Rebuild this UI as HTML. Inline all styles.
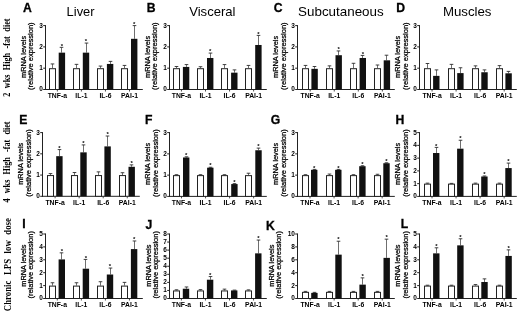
<!DOCTYPE html>
<html><head><meta charset="utf-8"><style>
html,body{margin:0;padding:0;background:#fff;overflow:hidden;width:520px;height:314px;}
svg{display:block;will-change:transform;filter:blur(0.3px);}
</style></head><body>
<svg width="520" height="314" viewBox="0 0 520 314">
<rect width="520" height="314" fill="#fff"/>
<line x1="45.5" y1="25.1" x2="45.5" y2="90.0" stroke="#222" stroke-width="1"/>
<line x1="45.0" y1="89.5" x2="142.8" y2="89.5" stroke="#222" stroke-width="1"/>
<line x1="43.2" y1="89.5" x2="45.5" y2="89.5" stroke="#222" stroke-width="1"/>
<text x="42.9" y="91.4" font-size="6.5" font-weight="bold" text-anchor="end" font-family="Liberation Sans">0</text>
<line x1="43.2" y1="68.2" x2="45.5" y2="68.2" stroke="#222" stroke-width="1"/>
<text x="42.9" y="70.1" font-size="6.5" font-weight="bold" text-anchor="end" font-family="Liberation Sans">1</text>
<line x1="43.2" y1="46.9" x2="45.5" y2="46.9" stroke="#222" stroke-width="1"/>
<text x="42.9" y="48.8" font-size="6.5" font-weight="bold" text-anchor="end" font-family="Liberation Sans">2</text>
<line x1="43.2" y1="25.6" x2="45.5" y2="25.6" stroke="#222" stroke-width="1"/>
<text x="42.9" y="27.5" font-size="6.5" font-weight="bold" text-anchor="end" font-family="Liberation Sans">3</text>
<line x1="52.5" y1="63.94" x2="52.5" y2="68.2" stroke="#4a4a4a" stroke-width="0.8"/>
<line x1="50.7" y1="63.94" x2="54.3" y2="63.94" stroke="#2a2a2a" stroke-width="0.9"/>
<rect x="49.5" y="68.7" width="6" height="20.8" fill="#fff" stroke="#222" stroke-width="1"/>
<line x1="61.5" y1="47.33" x2="61.5" y2="52.65" stroke="#4a4a4a" stroke-width="0.8"/>
<line x1="59.7" y1="47.33" x2="63.3" y2="47.33" stroke="#2a2a2a" stroke-width="0.9"/>
<rect x="58.7" y="52.65" width="6.4" height="36.85" fill="#111"/>
<line x1="57.35" y1="89.5" x2="57.35" y2="91.5" stroke="#222" stroke-width="0.8"/>
<text x="61.9" y="47.53" font-size="6" font-weight="bold" text-anchor="middle" font-family="Liberation Sans">*</text>
<text x="57.35" y="97.7" font-size="6.8" font-weight="bold" text-anchor="middle" font-family="Liberation Sans">TNF-a</text>
<line x1="76.5" y1="64.37" x2="76.5" y2="68.2" stroke="#4a4a4a" stroke-width="0.8"/>
<line x1="74.7" y1="64.37" x2="78.3" y2="64.37" stroke="#2a2a2a" stroke-width="0.9"/>
<rect x="73.5" y="68.7" width="6" height="20.8" fill="#fff" stroke="#222" stroke-width="1"/>
<line x1="86.5" y1="43.07" x2="86.5" y2="52.65" stroke="#4a4a4a" stroke-width="0.8"/>
<line x1="84.7" y1="43.07" x2="88.3" y2="43.07" stroke="#2a2a2a" stroke-width="0.9"/>
<rect x="82.8" y="52.65" width="6.4" height="36.85" fill="#111"/>
<line x1="81.4" y1="89.5" x2="81.4" y2="91.5" stroke="#222" stroke-width="0.8"/>
<text x="86" y="43.27" font-size="6" font-weight="bold" text-anchor="middle" font-family="Liberation Sans">*</text>
<text x="81.4" y="97.7" font-size="6.8" font-weight="bold" text-anchor="middle" font-family="Liberation Sans">IL-1</text>
<line x1="100.5" y1="66.07" x2="100.5" y2="68.2" stroke="#4a4a4a" stroke-width="0.8"/>
<line x1="98.7" y1="66.07" x2="102.3" y2="66.07" stroke="#2a2a2a" stroke-width="0.9"/>
<rect x="97.5" y="68.7" width="6" height="20.8" fill="#fff" stroke="#222" stroke-width="1"/>
<line x1="110.5" y1="61.38" x2="110.5" y2="63.94" stroke="#4a4a4a" stroke-width="0.8"/>
<line x1="108.7" y1="61.38" x2="112.3" y2="61.38" stroke="#2a2a2a" stroke-width="0.9"/>
<rect x="106.9" y="63.94" width="6.4" height="25.56" fill="#111"/>
<line x1="105.45" y1="89.5" x2="105.45" y2="91.5" stroke="#222" stroke-width="0.8"/>
<text x="105.45" y="97.7" font-size="6.8" font-weight="bold" text-anchor="middle" font-family="Liberation Sans">IL-6</text>
<line x1="124.5" y1="65.43" x2="124.5" y2="68.2" stroke="#4a4a4a" stroke-width="0.8"/>
<line x1="122.7" y1="65.43" x2="126.3" y2="65.43" stroke="#2a2a2a" stroke-width="0.9"/>
<rect x="121.5" y="68.7" width="6" height="20.8" fill="#fff" stroke="#222" stroke-width="1"/>
<line x1="134.5" y1="25.6" x2="134.5" y2="38.81" stroke="#4a4a4a" stroke-width="0.8"/>
<line x1="132.7" y1="25.6" x2="136.3" y2="25.6" stroke="#2a2a2a" stroke-width="0.9"/>
<rect x="131.0" y="38.81" width="6.4" height="50.69" fill="#111"/>
<line x1="129.5" y1="89.5" x2="129.5" y2="91.5" stroke="#222" stroke-width="0.8"/>
<text x="134.2" y="25.8" font-size="6" font-weight="bold" text-anchor="middle" font-family="Liberation Sans">*</text>
<text x="129.5" y="97.7" font-size="6.8" font-weight="bold" text-anchor="middle" font-family="Liberation Sans">PAI-1</text>
<text x="25.95" y="56.9" font-size="7.35" font-weight="normal" text-anchor="middle" font-family="Liberation Sans" transform="rotate(-90 25.95 56.9)" stroke="#000" stroke-width="0.25">mRNA levels</text>
<text x="32.8" y="56.15" font-size="7.5" font-weight="normal" text-anchor="middle" font-family="Liberation Sans" transform="rotate(-90 32.8 56.15)" stroke="#000" stroke-width="0.25">(relative expression)</text>
<text x="27.5" y="12.29" font-size="12.2" font-weight="bold" text-anchor="middle" font-family="Liberation Sans" stroke="#000" stroke-width="0.3">A</text>
<text x="66.6" y="16.4" font-size="12.9" font-weight="normal" text-anchor="start" font-family="Liberation Sans">Liver</text>
<line x1="169.5" y1="25.1" x2="169.5" y2="90.0" stroke="#222" stroke-width="1"/>
<line x1="169.0" y1="89.5" x2="266.8" y2="89.5" stroke="#222" stroke-width="1"/>
<line x1="167.2" y1="89.5" x2="169.5" y2="89.5" stroke="#222" stroke-width="1"/>
<text x="166.9" y="91.4" font-size="6.5" font-weight="bold" text-anchor="end" font-family="Liberation Sans">0</text>
<line x1="167.2" y1="68.2" x2="169.5" y2="68.2" stroke="#222" stroke-width="1"/>
<text x="166.9" y="70.1" font-size="6.5" font-weight="bold" text-anchor="end" font-family="Liberation Sans">1</text>
<line x1="167.2" y1="46.9" x2="169.5" y2="46.9" stroke="#222" stroke-width="1"/>
<text x="166.9" y="48.8" font-size="6.5" font-weight="bold" text-anchor="end" font-family="Liberation Sans">2</text>
<line x1="167.2" y1="25.6" x2="169.5" y2="25.6" stroke="#222" stroke-width="1"/>
<text x="166.9" y="27.5" font-size="6.5" font-weight="bold" text-anchor="end" font-family="Liberation Sans">3</text>
<line x1="176.5" y1="66.5" x2="176.5" y2="68.2" stroke="#4a4a4a" stroke-width="0.8"/>
<line x1="174.7" y1="66.5" x2="178.3" y2="66.5" stroke="#2a2a2a" stroke-width="0.9"/>
<rect x="173.5" y="68.7" width="6" height="20.8" fill="#fff" stroke="#222" stroke-width="1"/>
<line x1="186.5" y1="64.58" x2="186.5" y2="66.92" stroke="#4a4a4a" stroke-width="0.8"/>
<line x1="184.7" y1="64.58" x2="188.3" y2="64.58" stroke="#2a2a2a" stroke-width="0.9"/>
<rect x="182.9" y="66.92" width="6.4" height="22.58" fill="#111"/>
<line x1="181.45" y1="89.5" x2="181.45" y2="91.5" stroke="#222" stroke-width="0.8"/>
<text x="181.45" y="97.7" font-size="6.8" font-weight="bold" text-anchor="middle" font-family="Liberation Sans">TNF-a</text>
<line x1="200.5" y1="66.71" x2="200.5" y2="68.2" stroke="#4a4a4a" stroke-width="0.8"/>
<line x1="198.7" y1="66.71" x2="202.3" y2="66.71" stroke="#2a2a2a" stroke-width="0.9"/>
<rect x="197.5" y="68.7" width="6" height="20.8" fill="#fff" stroke="#222" stroke-width="1"/>
<line x1="210.5" y1="53.08" x2="210.5" y2="57.98" stroke="#4a4a4a" stroke-width="0.8"/>
<line x1="208.7" y1="53.08" x2="212.3" y2="53.08" stroke="#2a2a2a" stroke-width="0.9"/>
<rect x="207.0" y="57.98" width="6.4" height="31.52" fill="#111"/>
<line x1="205.5" y1="89.5" x2="205.5" y2="91.5" stroke="#222" stroke-width="0.8"/>
<text x="210.2" y="53.28" font-size="6" font-weight="bold" text-anchor="middle" font-family="Liberation Sans">*</text>
<text x="205.5" y="97.7" font-size="6.8" font-weight="bold" text-anchor="middle" font-family="Liberation Sans">IL-1</text>
<line x1="224.5" y1="64.58" x2="224.5" y2="68.2" stroke="#4a4a4a" stroke-width="0.8"/>
<line x1="222.7" y1="64.58" x2="226.3" y2="64.58" stroke="#2a2a2a" stroke-width="0.9"/>
<rect x="221.5" y="68.7" width="6" height="20.8" fill="#fff" stroke="#222" stroke-width="1"/>
<line x1="234.5" y1="69.9" x2="234.5" y2="72.67" stroke="#4a4a4a" stroke-width="0.8"/>
<line x1="232.7" y1="69.9" x2="236.3" y2="69.9" stroke="#2a2a2a" stroke-width="0.9"/>
<rect x="231.1" y="72.67" width="6.4" height="16.83" fill="#111"/>
<line x1="229.55" y1="89.5" x2="229.55" y2="91.5" stroke="#222" stroke-width="0.8"/>
<text x="229.55" y="97.7" font-size="6.8" font-weight="bold" text-anchor="middle" font-family="Liberation Sans">IL-6</text>
<line x1="248.5" y1="65.43" x2="248.5" y2="68.2" stroke="#4a4a4a" stroke-width="0.8"/>
<line x1="246.7" y1="65.43" x2="250.3" y2="65.43" stroke="#2a2a2a" stroke-width="0.9"/>
<rect x="245.5" y="68.7" width="6" height="20.8" fill="#fff" stroke="#222" stroke-width="1"/>
<line x1="258.5" y1="35.4" x2="258.5" y2="44.98" stroke="#4a4a4a" stroke-width="0.8"/>
<line x1="256.7" y1="35.4" x2="260.3" y2="35.4" stroke="#2a2a2a" stroke-width="0.9"/>
<rect x="255.2" y="44.98" width="6.4" height="44.52" fill="#111"/>
<line x1="253.6" y1="89.5" x2="253.6" y2="91.5" stroke="#222" stroke-width="0.8"/>
<text x="258.4" y="35.6" font-size="6" font-weight="bold" text-anchor="middle" font-family="Liberation Sans">*</text>
<text x="253.6" y="97.7" font-size="6.8" font-weight="bold" text-anchor="middle" font-family="Liberation Sans">PAI-1</text>
<text x="149.95" y="56.9" font-size="7.35" font-weight="normal" text-anchor="middle" font-family="Liberation Sans" transform="rotate(-90 149.95 56.9)" stroke="#000" stroke-width="0.25">mRNA levels</text>
<text x="157.25" y="56.15" font-size="7.5" font-weight="normal" text-anchor="middle" font-family="Liberation Sans" transform="rotate(-90 157.25 56.15)" stroke="#000" stroke-width="0.25">(relative expression)</text>
<text x="151.25" y="12.49" font-size="12.2" font-weight="bold" text-anchor="middle" font-family="Liberation Sans" stroke="#000" stroke-width="0.3">B</text>
<text x="189.2" y="16.4" font-size="13.1" font-weight="normal" text-anchor="start" font-family="Liberation Sans">Visceral</text>
<line x1="297.5" y1="25.1" x2="297.5" y2="90.0" stroke="#222" stroke-width="1"/>
<line x1="297.0" y1="89.5" x2="394.8" y2="89.5" stroke="#222" stroke-width="1"/>
<line x1="295.2" y1="89.5" x2="297.5" y2="89.5" stroke="#222" stroke-width="1"/>
<text x="294.9" y="91.4" font-size="6.5" font-weight="bold" text-anchor="end" font-family="Liberation Sans">0</text>
<line x1="295.2" y1="68.2" x2="297.5" y2="68.2" stroke="#222" stroke-width="1"/>
<text x="294.9" y="70.1" font-size="6.5" font-weight="bold" text-anchor="end" font-family="Liberation Sans">1</text>
<line x1="295.2" y1="46.9" x2="297.5" y2="46.9" stroke="#222" stroke-width="1"/>
<text x="294.9" y="48.8" font-size="6.5" font-weight="bold" text-anchor="end" font-family="Liberation Sans">2</text>
<line x1="295.2" y1="25.6" x2="297.5" y2="25.6" stroke="#222" stroke-width="1"/>
<text x="294.9" y="27.5" font-size="6.5" font-weight="bold" text-anchor="end" font-family="Liberation Sans">3</text>
<line x1="305.5" y1="65.43" x2="305.5" y2="68.2" stroke="#4a4a4a" stroke-width="0.8"/>
<line x1="303.7" y1="65.43" x2="307.3" y2="65.43" stroke="#2a2a2a" stroke-width="0.9"/>
<rect x="302.5" y="68.7" width="6" height="20.8" fill="#fff" stroke="#222" stroke-width="1"/>
<line x1="314.5" y1="66.5" x2="314.5" y2="68.84" stroke="#4a4a4a" stroke-width="0.8"/>
<line x1="312.7" y1="66.5" x2="316.3" y2="66.5" stroke="#2a2a2a" stroke-width="0.9"/>
<rect x="311.4" y="68.84" width="6.4" height="20.66" fill="#111"/>
<line x1="310.2" y1="89.5" x2="310.2" y2="91.5" stroke="#222" stroke-width="0.8"/>
<text x="310.2" y="97.7" font-size="6.8" font-weight="bold" text-anchor="middle" font-family="Liberation Sans">TNF-a</text>
<line x1="329.5" y1="65.86" x2="329.5" y2="68.2" stroke="#4a4a4a" stroke-width="0.8"/>
<line x1="327.7" y1="65.86" x2="331.3" y2="65.86" stroke="#2a2a2a" stroke-width="0.9"/>
<rect x="326.5" y="68.7" width="6" height="20.8" fill="#fff" stroke="#222" stroke-width="1"/>
<line x1="338.5" y1="50.95" x2="338.5" y2="55.21" stroke="#4a4a4a" stroke-width="0.8"/>
<line x1="336.7" y1="50.95" x2="340.3" y2="50.95" stroke="#2a2a2a" stroke-width="0.9"/>
<rect x="335.5" y="55.21" width="6.4" height="34.29" fill="#111"/>
<line x1="334.25" y1="89.5" x2="334.25" y2="91.5" stroke="#222" stroke-width="0.8"/>
<text x="338.7" y="51.15" font-size="6" font-weight="bold" text-anchor="middle" font-family="Liberation Sans">*</text>
<text x="334.25" y="97.7" font-size="6.8" font-weight="bold" text-anchor="middle" font-family="Liberation Sans">IL-1</text>
<line x1="353.5" y1="63.3" x2="353.5" y2="68.2" stroke="#4a4a4a" stroke-width="0.8"/>
<line x1="351.7" y1="63.3" x2="355.3" y2="63.3" stroke="#2a2a2a" stroke-width="0.9"/>
<rect x="350.5" y="68.7" width="6" height="20.8" fill="#fff" stroke="#222" stroke-width="1"/>
<line x1="362.5" y1="55.42" x2="362.5" y2="57.98" stroke="#4a4a4a" stroke-width="0.8"/>
<line x1="360.7" y1="55.42" x2="364.3" y2="55.42" stroke="#2a2a2a" stroke-width="0.9"/>
<rect x="359.6" y="57.98" width="6.4" height="31.52" fill="#111"/>
<line x1="358.3" y1="89.5" x2="358.3" y2="91.5" stroke="#222" stroke-width="0.8"/>
<text x="362.8" y="55.62" font-size="6" font-weight="bold" text-anchor="middle" font-family="Liberation Sans">*</text>
<text x="358.3" y="97.7" font-size="6.8" font-weight="bold" text-anchor="middle" font-family="Liberation Sans">IL-6</text>
<line x1="377.5" y1="65.01" x2="377.5" y2="68.2" stroke="#4a4a4a" stroke-width="0.8"/>
<line x1="375.7" y1="65.01" x2="379.3" y2="65.01" stroke="#2a2a2a" stroke-width="0.9"/>
<rect x="374.5" y="68.7" width="6" height="20.8" fill="#fff" stroke="#222" stroke-width="1"/>
<line x1="386.5" y1="55.21" x2="386.5" y2="60.32" stroke="#4a4a4a" stroke-width="0.8"/>
<line x1="384.7" y1="55.21" x2="388.3" y2="55.21" stroke="#2a2a2a" stroke-width="0.9"/>
<rect x="383.7" y="60.32" width="6.4" height="29.18" fill="#111"/>
<line x1="382.35" y1="89.5" x2="382.35" y2="91.5" stroke="#222" stroke-width="0.8"/>
<text x="382.35" y="97.7" font-size="6.8" font-weight="bold" text-anchor="middle" font-family="Liberation Sans">PAI-1</text>
<text x="278.3" y="56.9" font-size="7.35" font-weight="normal" text-anchor="middle" font-family="Liberation Sans" transform="rotate(-90 278.3 56.9)" stroke="#000" stroke-width="0.25">mRNA levels</text>
<text x="285.7" y="56.15" font-size="7.5" font-weight="normal" text-anchor="middle" font-family="Liberation Sans" transform="rotate(-90 285.7 56.15)" stroke="#000" stroke-width="0.25">(relative expression)</text>
<text x="278.1" y="12.49" font-size="12.2" font-weight="bold" text-anchor="middle" font-family="Liberation Sans" stroke="#000" stroke-width="0.3">C</text>
<text x="298.1" y="16.0" font-size="13.4" font-weight="normal" text-anchor="start" font-family="Liberation Sans">Subcutaneous</text>
<line x1="419.5" y1="25.1" x2="419.5" y2="90.0" stroke="#222" stroke-width="1"/>
<line x1="419.0" y1="89.5" x2="516.8" y2="89.5" stroke="#222" stroke-width="1"/>
<line x1="417.2" y1="89.5" x2="419.5" y2="89.5" stroke="#222" stroke-width="1"/>
<text x="416.9" y="91.4" font-size="6.5" font-weight="bold" text-anchor="end" font-family="Liberation Sans">0</text>
<line x1="417.2" y1="68.2" x2="419.5" y2="68.2" stroke="#222" stroke-width="1"/>
<text x="416.9" y="70.1" font-size="6.5" font-weight="bold" text-anchor="end" font-family="Liberation Sans">1</text>
<line x1="417.2" y1="46.9" x2="419.5" y2="46.9" stroke="#222" stroke-width="1"/>
<text x="416.9" y="48.8" font-size="6.5" font-weight="bold" text-anchor="end" font-family="Liberation Sans">2</text>
<line x1="417.2" y1="25.6" x2="419.5" y2="25.6" stroke="#222" stroke-width="1"/>
<text x="416.9" y="27.5" font-size="6.5" font-weight="bold" text-anchor="end" font-family="Liberation Sans">3</text>
<line x1="427.5" y1="63.51" x2="427.5" y2="68.2" stroke="#4a4a4a" stroke-width="0.8"/>
<line x1="425.7" y1="63.51" x2="429.3" y2="63.51" stroke="#2a2a2a" stroke-width="0.9"/>
<rect x="424.5" y="68.7" width="6" height="20.8" fill="#fff" stroke="#222" stroke-width="1"/>
<line x1="436.5" y1="69.9" x2="436.5" y2="75.87" stroke="#4a4a4a" stroke-width="0.8"/>
<line x1="434.7" y1="69.9" x2="438.3" y2="69.9" stroke="#2a2a2a" stroke-width="0.9"/>
<rect x="433.1" y="75.87" width="6.4" height="13.63" fill="#111"/>
<line x1="432.05" y1="89.5" x2="432.05" y2="91.5" stroke="#222" stroke-width="0.8"/>
<text x="432.05" y="97.7" font-size="6.8" font-weight="bold" text-anchor="middle" font-family="Liberation Sans">TNF-a</text>
<line x1="451.5" y1="64.37" x2="451.5" y2="68.2" stroke="#4a4a4a" stroke-width="0.8"/>
<line x1="449.7" y1="64.37" x2="453.3" y2="64.37" stroke="#2a2a2a" stroke-width="0.9"/>
<rect x="448.5" y="68.7" width="6" height="20.8" fill="#fff" stroke="#222" stroke-width="1"/>
<line x1="460.5" y1="67.77" x2="460.5" y2="73.1" stroke="#4a4a4a" stroke-width="0.8"/>
<line x1="458.7" y1="67.77" x2="462.3" y2="67.77" stroke="#2a2a2a" stroke-width="0.9"/>
<rect x="457.2" y="73.1" width="6.4" height="16.4" fill="#111"/>
<line x1="456.1" y1="89.5" x2="456.1" y2="91.5" stroke="#222" stroke-width="0.8"/>
<text x="456.1" y="97.7" font-size="6.8" font-weight="bold" text-anchor="middle" font-family="Liberation Sans">IL-1</text>
<line x1="475.5" y1="65.86" x2="475.5" y2="68.2" stroke="#4a4a4a" stroke-width="0.8"/>
<line x1="473.7" y1="65.86" x2="477.3" y2="65.86" stroke="#2a2a2a" stroke-width="0.9"/>
<rect x="472.5" y="68.7" width="6" height="20.8" fill="#fff" stroke="#222" stroke-width="1"/>
<line x1="484.5" y1="69.9" x2="484.5" y2="72.25" stroke="#4a4a4a" stroke-width="0.8"/>
<line x1="482.7" y1="69.9" x2="486.3" y2="69.9" stroke="#2a2a2a" stroke-width="0.9"/>
<rect x="481.3" y="72.25" width="6.4" height="17.25" fill="#111"/>
<line x1="480.15" y1="89.5" x2="480.15" y2="91.5" stroke="#222" stroke-width="0.8"/>
<text x="480.15" y="97.7" font-size="6.8" font-weight="bold" text-anchor="middle" font-family="Liberation Sans">IL-6</text>
<line x1="499.5" y1="65.64" x2="499.5" y2="68.2" stroke="#4a4a4a" stroke-width="0.8"/>
<line x1="497.7" y1="65.64" x2="501.3" y2="65.64" stroke="#2a2a2a" stroke-width="0.9"/>
<rect x="496.5" y="68.7" width="6" height="20.8" fill="#fff" stroke="#222" stroke-width="1"/>
<line x1="508.5" y1="71.4" x2="508.5" y2="73.31" stroke="#4a4a4a" stroke-width="0.8"/>
<line x1="506.7" y1="71.4" x2="510.3" y2="71.4" stroke="#2a2a2a" stroke-width="0.9"/>
<rect x="505.4" y="73.31" width="6.4" height="16.19" fill="#111"/>
<line x1="504.2" y1="89.5" x2="504.2" y2="91.5" stroke="#222" stroke-width="0.8"/>
<text x="504.2" y="97.7" font-size="6.8" font-weight="bold" text-anchor="middle" font-family="Liberation Sans">PAI-1</text>
<text x="400.35" y="56.9" font-size="7.35" font-weight="normal" text-anchor="middle" font-family="Liberation Sans" transform="rotate(-90 400.35 56.9)" stroke="#000" stroke-width="0.25">mRNA levels</text>
<text x="407.6" y="56.15" font-size="7.5" font-weight="normal" text-anchor="middle" font-family="Liberation Sans" transform="rotate(-90 407.6 56.15)" stroke="#000" stroke-width="0.25">(relative expression)</text>
<text x="400.6" y="12.49" font-size="12.2" font-weight="bold" text-anchor="middle" font-family="Liberation Sans" stroke="#000" stroke-width="0.3">D</text>
<text x="442.9" y="16.4" font-size="13.25" font-weight="normal" text-anchor="start" font-family="Liberation Sans">Muscles</text>
<line x1="42.5" y1="132.1" x2="42.5" y2="196.8" stroke="#222" stroke-width="1"/>
<line x1="42.0" y1="196.3" x2="139.8" y2="196.3" stroke="#222" stroke-width="1"/>
<line x1="40.2" y1="196.3" x2="42.5" y2="196.3" stroke="#222" stroke-width="1"/>
<text x="39.9" y="198.2" font-size="6.5" font-weight="bold" text-anchor="end" font-family="Liberation Sans">0</text>
<line x1="40.2" y1="175.07" x2="42.5" y2="175.07" stroke="#222" stroke-width="1"/>
<text x="39.9" y="176.97" font-size="6.5" font-weight="bold" text-anchor="end" font-family="Liberation Sans">1</text>
<line x1="40.2" y1="153.83" x2="42.5" y2="153.83" stroke="#222" stroke-width="1"/>
<text x="39.9" y="155.73" font-size="6.5" font-weight="bold" text-anchor="end" font-family="Liberation Sans">2</text>
<line x1="40.2" y1="132.6" x2="42.5" y2="132.6" stroke="#222" stroke-width="1"/>
<text x="39.9" y="134.5" font-size="6.5" font-weight="bold" text-anchor="end" font-family="Liberation Sans">3</text>
<line x1="50.5" y1="173.58" x2="50.5" y2="175.07" stroke="#4a4a4a" stroke-width="0.8"/>
<line x1="48.7" y1="173.58" x2="52.3" y2="173.58" stroke="#2a2a2a" stroke-width="0.9"/>
<rect x="47.5" y="175.57" width="6" height="20.73" fill="#fff" stroke="#222" stroke-width="1"/>
<line x1="59.5" y1="149.59" x2="59.5" y2="156.17" stroke="#4a4a4a" stroke-width="0.8"/>
<line x1="57.7" y1="149.59" x2="61.3" y2="149.59" stroke="#2a2a2a" stroke-width="0.9"/>
<rect x="56.2" y="156.17" width="6.4" height="40.13" fill="#111"/>
<line x1="55.1" y1="196.3" x2="55.1" y2="198.3" stroke="#222" stroke-width="0.8"/>
<text x="59.4" y="149.79" font-size="6" font-weight="bold" text-anchor="middle" font-family="Liberation Sans">*</text>
<text x="55.1" y="204.5" font-size="6.8" font-weight="bold" text-anchor="middle" font-family="Liberation Sans">TNF-a</text>
<line x1="74.5" y1="172.52" x2="74.5" y2="175.07" stroke="#4a4a4a" stroke-width="0.8"/>
<line x1="72.7" y1="172.52" x2="76.3" y2="172.52" stroke="#2a2a2a" stroke-width="0.9"/>
<rect x="71.5" y="175.57" width="6" height="20.73" fill="#fff" stroke="#222" stroke-width="1"/>
<line x1="83.5" y1="144.92" x2="83.5" y2="152.35" stroke="#4a4a4a" stroke-width="0.8"/>
<line x1="81.7" y1="144.92" x2="85.3" y2="144.92" stroke="#2a2a2a" stroke-width="0.9"/>
<rect x="80.3" y="152.35" width="6.4" height="43.95" fill="#111"/>
<line x1="79.15" y1="196.3" x2="79.15" y2="198.3" stroke="#222" stroke-width="0.8"/>
<text x="83.5" y="145.12" font-size="6" font-weight="bold" text-anchor="middle" font-family="Liberation Sans">*</text>
<text x="79.15" y="204.5" font-size="6.8" font-weight="bold" text-anchor="middle" font-family="Liberation Sans">IL-1</text>
<line x1="98.5" y1="171.88" x2="98.5" y2="175.07" stroke="#4a4a4a" stroke-width="0.8"/>
<line x1="96.7" y1="171.88" x2="100.3" y2="171.88" stroke="#2a2a2a" stroke-width="0.9"/>
<rect x="95.5" y="175.57" width="6" height="20.73" fill="#fff" stroke="#222" stroke-width="1"/>
<line x1="107.5" y1="136" x2="107.5" y2="146.4" stroke="#4a4a4a" stroke-width="0.8"/>
<line x1="105.7" y1="136" x2="109.3" y2="136" stroke="#2a2a2a" stroke-width="0.9"/>
<rect x="104.4" y="146.4" width="6.4" height="49.9" fill="#111"/>
<line x1="103.2" y1="196.3" x2="103.2" y2="198.3" stroke="#222" stroke-width="0.8"/>
<text x="107.6" y="136.2" font-size="6" font-weight="bold" text-anchor="middle" font-family="Liberation Sans">*</text>
<text x="103.2" y="204.5" font-size="6.8" font-weight="bold" text-anchor="middle" font-family="Liberation Sans">IL-6</text>
<line x1="122.5" y1="172.73" x2="122.5" y2="175.07" stroke="#4a4a4a" stroke-width="0.8"/>
<line x1="120.7" y1="172.73" x2="124.3" y2="172.73" stroke="#2a2a2a" stroke-width="0.9"/>
<rect x="119.5" y="175.57" width="6" height="20.73" fill="#fff" stroke="#222" stroke-width="1"/>
<line x1="131.5" y1="164.87" x2="131.5" y2="166.79" stroke="#4a4a4a" stroke-width="0.8"/>
<line x1="129.7" y1="164.87" x2="133.3" y2="164.87" stroke="#2a2a2a" stroke-width="0.9"/>
<rect x="128.5" y="166.79" width="6.4" height="29.51" fill="#111"/>
<line x1="127.25" y1="196.3" x2="127.25" y2="198.3" stroke="#222" stroke-width="0.8"/>
<text x="131.7" y="165.07" font-size="6" font-weight="bold" text-anchor="middle" font-family="Liberation Sans">*</text>
<text x="127.25" y="204.5" font-size="6.8" font-weight="bold" text-anchor="middle" font-family="Liberation Sans">PAI-1</text>
<text x="23.45" y="163.8" font-size="7.35" font-weight="normal" text-anchor="middle" font-family="Liberation Sans" transform="rotate(-90 23.45 163.8)" stroke="#000" stroke-width="0.25">mRNA levels</text>
<text x="30.9" y="163.05" font-size="7.5" font-weight="normal" text-anchor="middle" font-family="Liberation Sans" transform="rotate(-90 30.9 163.05)" stroke="#000" stroke-width="0.25">(relative expression)</text>
<text x="23.25" y="123.54" font-size="12.2" font-weight="bold" text-anchor="middle" font-family="Liberation Sans" stroke="#000" stroke-width="0.3">E</text>
<line x1="169.5" y1="132.1" x2="169.5" y2="196.9" stroke="#222" stroke-width="1"/>
<line x1="169.0" y1="196.4" x2="266.8" y2="196.4" stroke="#222" stroke-width="1"/>
<line x1="167.2" y1="196.4" x2="169.5" y2="196.4" stroke="#222" stroke-width="1"/>
<text x="166.9" y="198.3" font-size="6.5" font-weight="bold" text-anchor="end" font-family="Liberation Sans">0</text>
<line x1="167.2" y1="175.13" x2="169.5" y2="175.13" stroke="#222" stroke-width="1"/>
<text x="166.9" y="177.03" font-size="6.5" font-weight="bold" text-anchor="end" font-family="Liberation Sans">1</text>
<line x1="167.2" y1="153.87" x2="169.5" y2="153.87" stroke="#222" stroke-width="1"/>
<text x="166.9" y="155.77" font-size="6.5" font-weight="bold" text-anchor="end" font-family="Liberation Sans">2</text>
<line x1="167.2" y1="132.6" x2="169.5" y2="132.6" stroke="#222" stroke-width="1"/>
<text x="166.9" y="134.5" font-size="6.5" font-weight="bold" text-anchor="end" font-family="Liberation Sans">3</text>
<line x1="176.5" y1="174.71" x2="176.5" y2="175.13" stroke="#4a4a4a" stroke-width="0.8"/>
<line x1="174.7" y1="174.71" x2="178.3" y2="174.71" stroke="#2a2a2a" stroke-width="0.9"/>
<rect x="173.5" y="175.63" width="6" height="20.77" fill="#fff" stroke="#222" stroke-width="1"/>
<line x1="186.5" y1="156.84" x2="186.5" y2="157.48" stroke="#4a4a4a" stroke-width="0.8"/>
<line x1="184.7" y1="156.84" x2="188.3" y2="156.84" stroke="#2a2a2a" stroke-width="0.9"/>
<rect x="183.0" y="157.48" width="6.4" height="38.92" fill="#111"/>
<line x1="181.5" y1="196.4" x2="181.5" y2="198.4" stroke="#222" stroke-width="0.8"/>
<text x="186.2" y="157.04" font-size="6" font-weight="bold" text-anchor="middle" font-family="Liberation Sans">*</text>
<text x="181.5" y="204.6" font-size="6.8" font-weight="bold" text-anchor="middle" font-family="Liberation Sans">TNF-a</text>
<line x1="200.5" y1="174.71" x2="200.5" y2="175.13" stroke="#4a4a4a" stroke-width="0.8"/>
<line x1="198.7" y1="174.71" x2="202.3" y2="174.71" stroke="#2a2a2a" stroke-width="0.9"/>
<rect x="197.5" y="175.63" width="6" height="20.77" fill="#fff" stroke="#222" stroke-width="1"/>
<line x1="210.5" y1="167.26" x2="210.5" y2="167.69" stroke="#4a4a4a" stroke-width="0.8"/>
<line x1="208.7" y1="167.26" x2="212.3" y2="167.26" stroke="#2a2a2a" stroke-width="0.9"/>
<rect x="207.1" y="167.69" width="6.4" height="28.71" fill="#111"/>
<line x1="205.55" y1="196.4" x2="205.55" y2="198.4" stroke="#222" stroke-width="0.8"/>
<text x="210.3" y="167.46" font-size="6" font-weight="bold" text-anchor="middle" font-family="Liberation Sans">*</text>
<text x="205.55" y="204.6" font-size="6.8" font-weight="bold" text-anchor="middle" font-family="Liberation Sans">IL-1</text>
<line x1="224.5" y1="174.71" x2="224.5" y2="175.13" stroke="#4a4a4a" stroke-width="0.8"/>
<line x1="222.7" y1="174.71" x2="226.3" y2="174.71" stroke="#2a2a2a" stroke-width="0.9"/>
<rect x="221.5" y="175.63" width="6" height="20.77" fill="#fff" stroke="#222" stroke-width="1"/>
<line x1="234.5" y1="183.64" x2="234.5" y2="184.07" stroke="#4a4a4a" stroke-width="0.8"/>
<line x1="232.7" y1="183.64" x2="236.3" y2="183.64" stroke="#2a2a2a" stroke-width="0.9"/>
<rect x="231.2" y="184.07" width="6.4" height="12.33" fill="#111"/>
<line x1="229.6" y1="196.4" x2="229.6" y2="198.4" stroke="#222" stroke-width="0.8"/>
<text x="234.4" y="183.84" font-size="6" font-weight="bold" text-anchor="middle" font-family="Liberation Sans">*</text>
<text x="229.6" y="204.6" font-size="6.8" font-weight="bold" text-anchor="middle" font-family="Liberation Sans">IL-6</text>
<line x1="248.5" y1="173.22" x2="248.5" y2="175.13" stroke="#4a4a4a" stroke-width="0.8"/>
<line x1="246.7" y1="173.22" x2="250.3" y2="173.22" stroke="#2a2a2a" stroke-width="0.9"/>
<rect x="245.5" y="175.63" width="6" height="20.77" fill="#fff" stroke="#222" stroke-width="1"/>
<line x1="258.5" y1="148.12" x2="258.5" y2="150.25" stroke="#4a4a4a" stroke-width="0.8"/>
<line x1="256.7" y1="148.12" x2="260.3" y2="148.12" stroke="#2a2a2a" stroke-width="0.9"/>
<rect x="255.3" y="150.25" width="6.4" height="46.15" fill="#111"/>
<line x1="253.65" y1="196.4" x2="253.65" y2="198.4" stroke="#222" stroke-width="0.8"/>
<text x="258.5" y="148.32" font-size="6" font-weight="bold" text-anchor="middle" font-family="Liberation Sans">*</text>
<text x="253.65" y="204.6" font-size="6.8" font-weight="bold" text-anchor="middle" font-family="Liberation Sans">PAI-1</text>
<text x="149.95" y="163.85" font-size="7.35" font-weight="normal" text-anchor="middle" font-family="Liberation Sans" transform="rotate(-90 149.95 163.85)" stroke="#000" stroke-width="0.25">mRNA levels</text>
<text x="157.7" y="163.1" font-size="7.5" font-weight="normal" text-anchor="middle" font-family="Liberation Sans" transform="rotate(-90 157.7 163.1)" stroke="#000" stroke-width="0.25">(relative expression)</text>
<text x="148.85" y="123.99" font-size="12.2" font-weight="bold" text-anchor="middle" font-family="Liberation Sans" stroke="#000" stroke-width="0.3">F</text>
<line x1="297.5" y1="132.1" x2="297.5" y2="196.9" stroke="#222" stroke-width="1"/>
<line x1="297.0" y1="196.4" x2="394.8" y2="196.4" stroke="#222" stroke-width="1"/>
<line x1="295.2" y1="196.4" x2="297.5" y2="196.4" stroke="#222" stroke-width="1"/>
<text x="294.9" y="198.3" font-size="6.5" font-weight="bold" text-anchor="end" font-family="Liberation Sans">0</text>
<line x1="295.2" y1="175.13" x2="297.5" y2="175.13" stroke="#222" stroke-width="1"/>
<text x="294.9" y="177.03" font-size="6.5" font-weight="bold" text-anchor="end" font-family="Liberation Sans">1</text>
<line x1="295.2" y1="153.87" x2="297.5" y2="153.87" stroke="#222" stroke-width="1"/>
<text x="294.9" y="155.77" font-size="6.5" font-weight="bold" text-anchor="end" font-family="Liberation Sans">2</text>
<line x1="295.2" y1="132.6" x2="297.5" y2="132.6" stroke="#222" stroke-width="1"/>
<text x="294.9" y="134.5" font-size="6.5" font-weight="bold" text-anchor="end" font-family="Liberation Sans">3</text>
<line x1="305.5" y1="174.71" x2="305.5" y2="175.13" stroke="#4a4a4a" stroke-width="0.8"/>
<line x1="303.7" y1="174.71" x2="307.3" y2="174.71" stroke="#2a2a2a" stroke-width="0.9"/>
<rect x="302.5" y="175.63" width="6" height="20.77" fill="#fff" stroke="#222" stroke-width="1"/>
<line x1="314.5" y1="169.39" x2="314.5" y2="169.82" stroke="#4a4a4a" stroke-width="0.8"/>
<line x1="312.7" y1="169.39" x2="316.3" y2="169.39" stroke="#2a2a2a" stroke-width="0.9"/>
<rect x="311.0" y="169.82" width="6.4" height="26.58" fill="#111"/>
<line x1="310.0" y1="196.4" x2="310.0" y2="198.4" stroke="#222" stroke-width="0.8"/>
<text x="314.2" y="169.59" font-size="6" font-weight="bold" text-anchor="middle" font-family="Liberation Sans">*</text>
<text x="310.0" y="204.6" font-size="6.8" font-weight="bold" text-anchor="middle" font-family="Liberation Sans">TNF-a</text>
<line x1="329.5" y1="174.07" x2="329.5" y2="175.13" stroke="#4a4a4a" stroke-width="0.8"/>
<line x1="327.7" y1="174.07" x2="331.3" y2="174.07" stroke="#2a2a2a" stroke-width="0.9"/>
<rect x="326.5" y="175.63" width="6" height="20.77" fill="#fff" stroke="#222" stroke-width="1"/>
<line x1="338.5" y1="169.39" x2="338.5" y2="169.82" stroke="#4a4a4a" stroke-width="0.8"/>
<line x1="336.7" y1="169.39" x2="340.3" y2="169.39" stroke="#2a2a2a" stroke-width="0.9"/>
<rect x="335.1" y="169.82" width="6.4" height="26.58" fill="#111"/>
<line x1="334.05" y1="196.4" x2="334.05" y2="198.4" stroke="#222" stroke-width="0.8"/>
<text x="338.3" y="169.59" font-size="6" font-weight="bold" text-anchor="middle" font-family="Liberation Sans">*</text>
<text x="334.05" y="204.6" font-size="6.8" font-weight="bold" text-anchor="middle" font-family="Liberation Sans">IL-1</text>
<line x1="353.5" y1="174.71" x2="353.5" y2="175.13" stroke="#4a4a4a" stroke-width="0.8"/>
<line x1="351.7" y1="174.71" x2="355.3" y2="174.71" stroke="#2a2a2a" stroke-width="0.9"/>
<rect x="350.5" y="175.63" width="6" height="20.77" fill="#fff" stroke="#222" stroke-width="1"/>
<line x1="362.5" y1="165.78" x2="362.5" y2="166.2" stroke="#4a4a4a" stroke-width="0.8"/>
<line x1="360.7" y1="165.78" x2="364.3" y2="165.78" stroke="#2a2a2a" stroke-width="0.9"/>
<rect x="359.2" y="166.2" width="6.4" height="30.2" fill="#111"/>
<line x1="358.1" y1="196.4" x2="358.1" y2="198.4" stroke="#222" stroke-width="0.8"/>
<text x="362.4" y="165.98" font-size="6" font-weight="bold" text-anchor="middle" font-family="Liberation Sans">*</text>
<text x="358.1" y="204.6" font-size="6.8" font-weight="bold" text-anchor="middle" font-family="Liberation Sans">IL-6</text>
<line x1="377.5" y1="174.28" x2="377.5" y2="175.13" stroke="#4a4a4a" stroke-width="0.8"/>
<line x1="375.7" y1="174.28" x2="379.3" y2="174.28" stroke="#2a2a2a" stroke-width="0.9"/>
<rect x="374.5" y="175.63" width="6" height="20.77" fill="#fff" stroke="#222" stroke-width="1"/>
<line x1="386.5" y1="162.8" x2="386.5" y2="163.22" stroke="#4a4a4a" stroke-width="0.8"/>
<line x1="384.7" y1="162.8" x2="388.3" y2="162.8" stroke="#2a2a2a" stroke-width="0.9"/>
<rect x="383.3" y="163.22" width="6.4" height="33.18" fill="#111"/>
<line x1="382.15" y1="196.4" x2="382.15" y2="198.4" stroke="#222" stroke-width="0.8"/>
<text x="386.5" y="163" font-size="6" font-weight="bold" text-anchor="middle" font-family="Liberation Sans">*</text>
<text x="382.15" y="204.6" font-size="6.8" font-weight="bold" text-anchor="middle" font-family="Liberation Sans">PAI-1</text>
<text x="278.15" y="163.85" font-size="7.35" font-weight="normal" text-anchor="middle" font-family="Liberation Sans" transform="rotate(-90 278.15 163.85)" stroke="#000" stroke-width="0.25">mRNA levels</text>
<text x="286.1" y="163.1" font-size="7.5" font-weight="normal" text-anchor="middle" font-family="Liberation Sans" transform="rotate(-90 286.1 163.1)" stroke="#000" stroke-width="0.25">(relative expression)</text>
<text x="275.5" y="123.99" font-size="12.2" font-weight="bold" text-anchor="middle" font-family="Liberation Sans" stroke="#000" stroke-width="0.3">G</text>
<line x1="419.5" y1="132.1" x2="419.5" y2="196.9" stroke="#222" stroke-width="1"/>
<line x1="419.0" y1="196.4" x2="516.8" y2="196.4" stroke="#222" stroke-width="1"/>
<line x1="417.2" y1="196.4" x2="419.5" y2="196.4" stroke="#222" stroke-width="1"/>
<text x="416.9" y="198.3" font-size="6.5" font-weight="bold" text-anchor="end" font-family="Liberation Sans">0</text>
<line x1="417.2" y1="183.64" x2="419.5" y2="183.64" stroke="#222" stroke-width="1"/>
<text x="416.9" y="185.54" font-size="6.5" font-weight="bold" text-anchor="end" font-family="Liberation Sans">1</text>
<line x1="417.2" y1="170.88" x2="419.5" y2="170.88" stroke="#222" stroke-width="1"/>
<text x="416.9" y="172.78" font-size="6.5" font-weight="bold" text-anchor="end" font-family="Liberation Sans">2</text>
<line x1="417.2" y1="158.12" x2="419.5" y2="158.12" stroke="#222" stroke-width="1"/>
<text x="416.9" y="160.02" font-size="6.5" font-weight="bold" text-anchor="end" font-family="Liberation Sans">3</text>
<line x1="417.2" y1="145.36" x2="419.5" y2="145.36" stroke="#222" stroke-width="1"/>
<text x="416.9" y="147.26" font-size="6.5" font-weight="bold" text-anchor="end" font-family="Liberation Sans">4</text>
<line x1="417.2" y1="132.6" x2="419.5" y2="132.6" stroke="#222" stroke-width="1"/>
<text x="416.9" y="134.5" font-size="6.5" font-weight="bold" text-anchor="end" font-family="Liberation Sans">5</text>
<line x1="427.5" y1="183.13" x2="427.5" y2="183.64" stroke="#4a4a4a" stroke-width="0.8"/>
<line x1="425.7" y1="183.13" x2="429.3" y2="183.13" stroke="#2a2a2a" stroke-width="0.9"/>
<rect x="424.5" y="184.14" width="6" height="12.26" fill="#fff" stroke="#222" stroke-width="1"/>
<line x1="436.5" y1="147.4" x2="436.5" y2="153.02" stroke="#4a4a4a" stroke-width="0.8"/>
<line x1="434.7" y1="147.4" x2="438.3" y2="147.4" stroke="#2a2a2a" stroke-width="0.9"/>
<rect x="433.0" y="153.02" width="6.4" height="43.38" fill="#111"/>
<line x1="432.0" y1="196.4" x2="432.0" y2="198.4" stroke="#222" stroke-width="0.8"/>
<text x="436.2" y="147.6" font-size="6" font-weight="bold" text-anchor="middle" font-family="Liberation Sans">*</text>
<text x="432.0" y="204.6" font-size="6.8" font-weight="bold" text-anchor="middle" font-family="Liberation Sans">TNF-a</text>
<line x1="451.5" y1="183.38" x2="451.5" y2="183.64" stroke="#4a4a4a" stroke-width="0.8"/>
<line x1="449.7" y1="183.38" x2="453.3" y2="183.38" stroke="#2a2a2a" stroke-width="0.9"/>
<rect x="448.5" y="184.14" width="6" height="12.26" fill="#fff" stroke="#222" stroke-width="1"/>
<line x1="460.5" y1="140.26" x2="460.5" y2="148.68" stroke="#4a4a4a" stroke-width="0.8"/>
<line x1="458.7" y1="140.26" x2="462.3" y2="140.26" stroke="#2a2a2a" stroke-width="0.9"/>
<rect x="457.1" y="148.68" width="6.4" height="47.72" fill="#111"/>
<line x1="456.05" y1="196.4" x2="456.05" y2="198.4" stroke="#222" stroke-width="0.8"/>
<text x="460.3" y="140.46" font-size="6" font-weight="bold" text-anchor="middle" font-family="Liberation Sans">*</text>
<text x="456.05" y="204.6" font-size="6.8" font-weight="bold" text-anchor="middle" font-family="Liberation Sans">IL-1</text>
<line x1="475.5" y1="183.13" x2="475.5" y2="183.64" stroke="#4a4a4a" stroke-width="0.8"/>
<line x1="473.7" y1="183.13" x2="477.3" y2="183.13" stroke="#2a2a2a" stroke-width="0.9"/>
<rect x="472.5" y="184.14" width="6" height="12.26" fill="#fff" stroke="#222" stroke-width="1"/>
<line x1="484.5" y1="175.98" x2="484.5" y2="176.49" stroke="#4a4a4a" stroke-width="0.8"/>
<line x1="482.7" y1="175.98" x2="486.3" y2="175.98" stroke="#2a2a2a" stroke-width="0.9"/>
<rect x="481.2" y="176.49" width="6.4" height="19.91" fill="#111"/>
<line x1="480.1" y1="196.4" x2="480.1" y2="198.4" stroke="#222" stroke-width="0.8"/>
<text x="484.4" y="176.18" font-size="6" font-weight="bold" text-anchor="middle" font-family="Liberation Sans">*</text>
<text x="480.1" y="204.6" font-size="6.8" font-weight="bold" text-anchor="middle" font-family="Liberation Sans">IL-6</text>
<line x1="499.5" y1="183.13" x2="499.5" y2="183.64" stroke="#4a4a4a" stroke-width="0.8"/>
<line x1="497.7" y1="183.13" x2="501.3" y2="183.13" stroke="#2a2a2a" stroke-width="0.9"/>
<rect x="496.5" y="184.14" width="6" height="12.26" fill="#fff" stroke="#222" stroke-width="1"/>
<line x1="508.5" y1="163.1" x2="508.5" y2="168.07" stroke="#4a4a4a" stroke-width="0.8"/>
<line x1="506.7" y1="163.1" x2="510.3" y2="163.1" stroke="#2a2a2a" stroke-width="0.9"/>
<rect x="505.3" y="168.07" width="6.4" height="28.33" fill="#111"/>
<line x1="504.15" y1="196.4" x2="504.15" y2="198.4" stroke="#222" stroke-width="0.8"/>
<text x="508.5" y="163.3" font-size="6" font-weight="bold" text-anchor="middle" font-family="Liberation Sans">*</text>
<text x="504.15" y="204.6" font-size="6.8" font-weight="bold" text-anchor="middle" font-family="Liberation Sans">PAI-1</text>
<text x="400.35" y="163.85" font-size="7.35" font-weight="normal" text-anchor="middle" font-family="Liberation Sans" transform="rotate(-90 400.35 163.85)" stroke="#000" stroke-width="0.25">mRNA levels</text>
<text x="408.35" y="163.1" font-size="7.5" font-weight="normal" text-anchor="middle" font-family="Liberation Sans" transform="rotate(-90 408.35 163.1)" stroke="#000" stroke-width="0.25">(relative expression)</text>
<text x="399.8" y="123.99" font-size="12.2" font-weight="bold" text-anchor="middle" font-family="Liberation Sans" stroke="#000" stroke-width="0.3">H</text>
<line x1="45.5" y1="233.5" x2="45.5" y2="299.0" stroke="#222" stroke-width="1"/>
<line x1="45.0" y1="298.5" x2="142.8" y2="298.5" stroke="#222" stroke-width="1"/>
<line x1="43.2" y1="298.5" x2="45.5" y2="298.5" stroke="#222" stroke-width="1"/>
<text x="42.9" y="300.4" font-size="6.5" font-weight="bold" text-anchor="end" font-family="Liberation Sans">0</text>
<line x1="43.2" y1="285.6" x2="45.5" y2="285.6" stroke="#222" stroke-width="1"/>
<text x="42.9" y="287.5" font-size="6.5" font-weight="bold" text-anchor="end" font-family="Liberation Sans">1</text>
<line x1="43.2" y1="272.7" x2="45.5" y2="272.7" stroke="#222" stroke-width="1"/>
<text x="42.9" y="274.6" font-size="6.5" font-weight="bold" text-anchor="end" font-family="Liberation Sans">2</text>
<line x1="43.2" y1="259.8" x2="45.5" y2="259.8" stroke="#222" stroke-width="1"/>
<text x="42.9" y="261.7" font-size="6.5" font-weight="bold" text-anchor="end" font-family="Liberation Sans">3</text>
<line x1="43.2" y1="246.9" x2="45.5" y2="246.9" stroke="#222" stroke-width="1"/>
<text x="42.9" y="248.8" font-size="6.5" font-weight="bold" text-anchor="end" font-family="Liberation Sans">4</text>
<line x1="43.2" y1="234.0" x2="45.5" y2="234.0" stroke="#222" stroke-width="1"/>
<text x="42.9" y="235.9" font-size="6.5" font-weight="bold" text-anchor="end" font-family="Liberation Sans">5</text>
<line x1="52.5" y1="282.76" x2="52.5" y2="285.6" stroke="#4a4a4a" stroke-width="0.8"/>
<line x1="50.7" y1="282.76" x2="54.3" y2="282.76" stroke="#2a2a2a" stroke-width="0.9"/>
<rect x="49.5" y="286.1" width="6" height="12.4" fill="#fff" stroke="#222" stroke-width="1"/>
<line x1="61.5" y1="252.83" x2="61.5" y2="259.41" stroke="#4a4a4a" stroke-width="0.8"/>
<line x1="59.7" y1="252.83" x2="63.3" y2="252.83" stroke="#2a2a2a" stroke-width="0.9"/>
<rect x="58.6" y="259.41" width="6.4" height="39.09" fill="#111"/>
<line x1="57.3" y1="298.5" x2="57.3" y2="300.5" stroke="#222" stroke-width="0.8"/>
<text x="61.8" y="253.03" font-size="6" font-weight="bold" text-anchor="middle" font-family="Liberation Sans">*</text>
<text x="57.3" y="306.7" font-size="6.8" font-weight="bold" text-anchor="middle" font-family="Liberation Sans">TNF-a</text>
<line x1="76.5" y1="282.76" x2="76.5" y2="285.6" stroke="#4a4a4a" stroke-width="0.8"/>
<line x1="74.7" y1="282.76" x2="78.3" y2="282.76" stroke="#2a2a2a" stroke-width="0.9"/>
<rect x="73.5" y="286.1" width="6" height="12.4" fill="#fff" stroke="#222" stroke-width="1"/>
<line x1="85.5" y1="259.41" x2="85.5" y2="268.7" stroke="#4a4a4a" stroke-width="0.8"/>
<line x1="83.7" y1="259.41" x2="87.3" y2="259.41" stroke="#2a2a2a" stroke-width="0.9"/>
<rect x="82.7" y="268.7" width="6.4" height="29.8" fill="#111"/>
<line x1="81.35" y1="298.5" x2="81.35" y2="300.5" stroke="#222" stroke-width="0.8"/>
<text x="85.9" y="259.61" font-size="6" font-weight="bold" text-anchor="middle" font-family="Liberation Sans">*</text>
<text x="81.35" y="306.7" font-size="6.8" font-weight="bold" text-anchor="middle" font-family="Liberation Sans">IL-1</text>
<line x1="100.5" y1="281.73" x2="100.5" y2="285.6" stroke="#4a4a4a" stroke-width="0.8"/>
<line x1="98.7" y1="281.73" x2="102.3" y2="281.73" stroke="#2a2a2a" stroke-width="0.9"/>
<rect x="97.5" y="286.1" width="6" height="12.4" fill="#fff" stroke="#222" stroke-width="1"/>
<line x1="110.5" y1="268.06" x2="110.5" y2="274.51" stroke="#4a4a4a" stroke-width="0.8"/>
<line x1="108.7" y1="268.06" x2="112.3" y2="268.06" stroke="#2a2a2a" stroke-width="0.9"/>
<rect x="106.8" y="274.51" width="6.4" height="23.99" fill="#111"/>
<line x1="105.4" y1="298.5" x2="105.4" y2="300.5" stroke="#222" stroke-width="0.8"/>
<text x="110" y="268.26" font-size="6" font-weight="bold" text-anchor="middle" font-family="Liberation Sans">*</text>
<text x="105.4" y="306.7" font-size="6.8" font-weight="bold" text-anchor="middle" font-family="Liberation Sans">IL-6</text>
<line x1="124.5" y1="282.38" x2="124.5" y2="285.6" stroke="#4a4a4a" stroke-width="0.8"/>
<line x1="122.7" y1="282.38" x2="126.3" y2="282.38" stroke="#2a2a2a" stroke-width="0.9"/>
<rect x="121.5" y="286.1" width="6" height="12.4" fill="#fff" stroke="#222" stroke-width="1"/>
<line x1="134.5" y1="240.97" x2="134.5" y2="249.09" stroke="#4a4a4a" stroke-width="0.8"/>
<line x1="132.7" y1="240.97" x2="136.3" y2="240.97" stroke="#2a2a2a" stroke-width="0.9"/>
<rect x="130.9" y="249.09" width="6.4" height="49.41" fill="#111"/>
<line x1="129.45" y1="298.5" x2="129.45" y2="300.5" stroke="#222" stroke-width="0.8"/>
<text x="134.1" y="241.17" font-size="6" font-weight="bold" text-anchor="middle" font-family="Liberation Sans">*</text>
<text x="129.45" y="306.7" font-size="6.8" font-weight="bold" text-anchor="middle" font-family="Liberation Sans">PAI-1</text>
<text x="25.95" y="265.6" font-size="7.35" font-weight="normal" text-anchor="middle" font-family="Liberation Sans" transform="rotate(-90 25.95 265.6)" stroke="#000" stroke-width="0.25">mRNA levels</text>
<text x="33.45" y="264.85" font-size="7.5" font-weight="normal" text-anchor="middle" font-family="Liberation Sans" transform="rotate(-90 33.45 264.85)" stroke="#000" stroke-width="0.25">(relative expression)</text>
<text x="23.85" y="227.89" font-size="12.2" font-weight="bold" text-anchor="middle" font-family="Liberation Sans" stroke="#000" stroke-width="0.3">I</text>
<line x1="169.5" y1="233.5" x2="169.5" y2="299.0" stroke="#222" stroke-width="1"/>
<line x1="169.0" y1="298.5" x2="266.8" y2="298.5" stroke="#222" stroke-width="1"/>
<line x1="167.2" y1="298.5" x2="169.5" y2="298.5" stroke="#222" stroke-width="1"/>
<text x="166.9" y="300.4" font-size="6.5" font-weight="bold" text-anchor="end" font-family="Liberation Sans">0</text>
<line x1="167.2" y1="290.44" x2="169.5" y2="290.44" stroke="#222" stroke-width="1"/>
<text x="166.9" y="292.34" font-size="6.5" font-weight="bold" text-anchor="end" font-family="Liberation Sans">1</text>
<line x1="167.2" y1="282.38" x2="169.5" y2="282.38" stroke="#222" stroke-width="1"/>
<text x="166.9" y="284.27" font-size="6.5" font-weight="bold" text-anchor="end" font-family="Liberation Sans">2</text>
<line x1="167.2" y1="274.31" x2="169.5" y2="274.31" stroke="#222" stroke-width="1"/>
<text x="166.9" y="276.21" font-size="6.5" font-weight="bold" text-anchor="end" font-family="Liberation Sans">3</text>
<line x1="167.2" y1="266.25" x2="169.5" y2="266.25" stroke="#222" stroke-width="1"/>
<text x="166.9" y="268.15" font-size="6.5" font-weight="bold" text-anchor="end" font-family="Liberation Sans">4</text>
<line x1="167.2" y1="258.19" x2="169.5" y2="258.19" stroke="#222" stroke-width="1"/>
<text x="166.9" y="260.09" font-size="6.5" font-weight="bold" text-anchor="end" font-family="Liberation Sans">5</text>
<line x1="167.2" y1="250.12" x2="169.5" y2="250.12" stroke="#222" stroke-width="1"/>
<text x="166.9" y="252.03" font-size="6.5" font-weight="bold" text-anchor="end" font-family="Liberation Sans">6</text>
<line x1="167.2" y1="242.06" x2="169.5" y2="242.06" stroke="#222" stroke-width="1"/>
<text x="166.9" y="243.96" font-size="6.5" font-weight="bold" text-anchor="end" font-family="Liberation Sans">7</text>
<line x1="167.2" y1="234.0" x2="169.5" y2="234.0" stroke="#222" stroke-width="1"/>
<text x="166.9" y="235.9" font-size="6.5" font-weight="bold" text-anchor="end" font-family="Liberation Sans">8</text>
<line x1="176.5" y1="289.79" x2="176.5" y2="290.44" stroke="#4a4a4a" stroke-width="0.8"/>
<line x1="174.7" y1="289.79" x2="178.3" y2="289.79" stroke="#2a2a2a" stroke-width="0.9"/>
<rect x="173.5" y="290.94" width="6" height="7.56" fill="#fff" stroke="#222" stroke-width="1"/>
<line x1="186.5" y1="286.97" x2="186.5" y2="288.74" stroke="#4a4a4a" stroke-width="0.8"/>
<line x1="184.7" y1="286.97" x2="188.3" y2="286.97" stroke="#2a2a2a" stroke-width="0.9"/>
<rect x="182.8" y="288.74" width="6.4" height="9.76" fill="#111"/>
<line x1="181.4" y1="298.5" x2="181.4" y2="300.5" stroke="#222" stroke-width="0.8"/>
<text x="181.4" y="306.7" font-size="6.8" font-weight="bold" text-anchor="middle" font-family="Liberation Sans">TNF-a</text>
<line x1="200.5" y1="289.63" x2="200.5" y2="290.44" stroke="#4a4a4a" stroke-width="0.8"/>
<line x1="198.7" y1="289.63" x2="202.3" y2="289.63" stroke="#2a2a2a" stroke-width="0.9"/>
<rect x="197.5" y="290.94" width="6" height="7.56" fill="#fff" stroke="#222" stroke-width="1"/>
<line x1="210.5" y1="276.57" x2="210.5" y2="279.71" stroke="#4a4a4a" stroke-width="0.8"/>
<line x1="208.7" y1="276.57" x2="212.3" y2="276.57" stroke="#2a2a2a" stroke-width="0.9"/>
<rect x="206.9" y="279.71" width="6.4" height="18.79" fill="#111"/>
<line x1="205.45" y1="298.5" x2="205.45" y2="300.5" stroke="#222" stroke-width="0.8"/>
<text x="210.1" y="276.77" font-size="6" font-weight="bold" text-anchor="middle" font-family="Liberation Sans">*</text>
<text x="205.45" y="306.7" font-size="6.8" font-weight="bold" text-anchor="middle" font-family="Liberation Sans">IL-1</text>
<line x1="224.5" y1="289.15" x2="224.5" y2="290.44" stroke="#4a4a4a" stroke-width="0.8"/>
<line x1="222.7" y1="289.15" x2="226.3" y2="289.15" stroke="#2a2a2a" stroke-width="0.9"/>
<rect x="221.5" y="290.94" width="6" height="7.56" fill="#fff" stroke="#222" stroke-width="1"/>
<line x1="234.5" y1="290.12" x2="234.5" y2="290.44" stroke="#4a4a4a" stroke-width="0.8"/>
<line x1="232.7" y1="290.12" x2="236.3" y2="290.12" stroke="#2a2a2a" stroke-width="0.9"/>
<rect x="231.0" y="290.44" width="6.4" height="8.06" fill="#111"/>
<line x1="229.5" y1="298.5" x2="229.5" y2="300.5" stroke="#222" stroke-width="0.8"/>
<text x="229.5" y="306.7" font-size="6.8" font-weight="bold" text-anchor="middle" font-family="Liberation Sans">IL-6</text>
<line x1="248.5" y1="289.87" x2="248.5" y2="290.44" stroke="#4a4a4a" stroke-width="0.8"/>
<line x1="246.7" y1="289.87" x2="250.3" y2="289.87" stroke="#2a2a2a" stroke-width="0.9"/>
<rect x="245.5" y="290.94" width="6" height="7.56" fill="#fff" stroke="#222" stroke-width="1"/>
<line x1="258.5" y1="240.05" x2="258.5" y2="253.35" stroke="#4a4a4a" stroke-width="0.8"/>
<line x1="256.7" y1="240.05" x2="260.3" y2="240.05" stroke="#2a2a2a" stroke-width="0.9"/>
<rect x="255.1" y="253.35" width="6.4" height="45.15" fill="#111"/>
<line x1="253.55" y1="298.5" x2="253.55" y2="300.5" stroke="#222" stroke-width="0.8"/>
<text x="258.3" y="240.25" font-size="6" font-weight="bold" text-anchor="middle" font-family="Liberation Sans">*</text>
<text x="253.55" y="306.7" font-size="6.8" font-weight="bold" text-anchor="middle" font-family="Liberation Sans">PAI-1</text>
<text x="150.6" y="265.6" font-size="7.35" font-weight="normal" text-anchor="middle" font-family="Liberation Sans" transform="rotate(-90 150.6 265.6)" stroke="#000" stroke-width="0.25">mRNA levels</text>
<text x="158.35" y="264.85" font-size="7.5" font-weight="normal" text-anchor="middle" font-family="Liberation Sans" transform="rotate(-90 158.35 264.85)" stroke="#000" stroke-width="0.25">(relative expression)</text>
<text x="148.85" y="228.69" font-size="12.2" font-weight="bold" text-anchor="middle" font-family="Liberation Sans" stroke="#000" stroke-width="0.3">J</text>
<line x1="297.5" y1="233.5" x2="297.5" y2="299.0" stroke="#222" stroke-width="1"/>
<line x1="297.0" y1="298.5" x2="394.8" y2="298.5" stroke="#222" stroke-width="1"/>
<line x1="295.2" y1="298.5" x2="297.5" y2="298.5" stroke="#222" stroke-width="1"/>
<text x="294.9" y="300.4" font-size="6.5" font-weight="bold" text-anchor="end" font-family="Liberation Sans">0</text>
<line x1="295.2" y1="285.6" x2="297.5" y2="285.6" stroke="#222" stroke-width="1"/>
<text x="294.9" y="287.5" font-size="6.5" font-weight="bold" text-anchor="end" font-family="Liberation Sans">2</text>
<line x1="295.2" y1="272.7" x2="297.5" y2="272.7" stroke="#222" stroke-width="1"/>
<text x="294.9" y="274.6" font-size="6.5" font-weight="bold" text-anchor="end" font-family="Liberation Sans">4</text>
<line x1="295.2" y1="259.8" x2="297.5" y2="259.8" stroke="#222" stroke-width="1"/>
<text x="294.9" y="261.7" font-size="6.5" font-weight="bold" text-anchor="end" font-family="Liberation Sans">6</text>
<line x1="295.2" y1="246.9" x2="297.5" y2="246.9" stroke="#222" stroke-width="1"/>
<text x="294.9" y="248.8" font-size="6.5" font-weight="bold" text-anchor="end" font-family="Liberation Sans">8</text>
<line x1="295.2" y1="234.0" x2="297.5" y2="234.0" stroke="#222" stroke-width="1"/>
<text x="294.9" y="235.9" font-size="6.5" font-weight="bold" text-anchor="end" font-family="Liberation Sans">10</text>
<line x1="305.5" y1="291.4" x2="305.5" y2="291.86" stroke="#4a4a4a" stroke-width="0.8"/>
<line x1="303.7" y1="291.4" x2="307.3" y2="291.4" stroke="#2a2a2a" stroke-width="0.9"/>
<rect x="302.5" y="292.36" width="6" height="6.14" fill="#fff" stroke="#222" stroke-width="1"/>
<line x1="314.5" y1="292.37" x2="314.5" y2="292.89" stroke="#4a4a4a" stroke-width="0.8"/>
<line x1="312.7" y1="292.37" x2="316.3" y2="292.37" stroke="#2a2a2a" stroke-width="0.9"/>
<rect x="311.2" y="292.89" width="6.4" height="5.61" fill="#111"/>
<line x1="310.1" y1="298.5" x2="310.1" y2="300.5" stroke="#222" stroke-width="0.8"/>
<text x="310.1" y="306.7" font-size="6.8" font-weight="bold" text-anchor="middle" font-family="Liberation Sans">TNF-a</text>
<line x1="329.5" y1="291.4" x2="329.5" y2="291.86" stroke="#4a4a4a" stroke-width="0.8"/>
<line x1="327.7" y1="291.4" x2="331.3" y2="291.4" stroke="#2a2a2a" stroke-width="0.9"/>
<rect x="326.5" y="292.36" width="6" height="6.14" fill="#fff" stroke="#222" stroke-width="1"/>
<line x1="338.5" y1="241.22" x2="338.5" y2="254.64" stroke="#4a4a4a" stroke-width="0.8"/>
<line x1="336.7" y1="241.22" x2="340.3" y2="241.22" stroke="#2a2a2a" stroke-width="0.9"/>
<rect x="335.3" y="254.64" width="6.4" height="43.86" fill="#111"/>
<line x1="334.15" y1="298.5" x2="334.15" y2="300.5" stroke="#222" stroke-width="0.8"/>
<text x="338.5" y="241.42" font-size="6" font-weight="bold" text-anchor="middle" font-family="Liberation Sans">*</text>
<text x="334.15" y="306.7" font-size="6.8" font-weight="bold" text-anchor="middle" font-family="Liberation Sans">IL-1</text>
<line x1="353.5" y1="291.4" x2="353.5" y2="291.86" stroke="#4a4a4a" stroke-width="0.8"/>
<line x1="351.7" y1="291.4" x2="355.3" y2="291.4" stroke="#2a2a2a" stroke-width="0.9"/>
<rect x="350.5" y="292.36" width="6" height="6.14" fill="#fff" stroke="#222" stroke-width="1"/>
<line x1="362.5" y1="277.86" x2="362.5" y2="284.63" stroke="#4a4a4a" stroke-width="0.8"/>
<line x1="360.7" y1="277.86" x2="364.3" y2="277.86" stroke="#2a2a2a" stroke-width="0.9"/>
<rect x="359.4" y="284.63" width="6.4" height="13.87" fill="#111"/>
<line x1="358.2" y1="298.5" x2="358.2" y2="300.5" stroke="#222" stroke-width="0.8"/>
<text x="362.6" y="278.06" font-size="6" font-weight="bold" text-anchor="middle" font-family="Liberation Sans">*</text>
<text x="358.2" y="306.7" font-size="6.8" font-weight="bold" text-anchor="middle" font-family="Liberation Sans">IL-6</text>
<line x1="377.5" y1="291.4" x2="377.5" y2="291.86" stroke="#4a4a4a" stroke-width="0.8"/>
<line x1="375.7" y1="291.4" x2="379.3" y2="291.4" stroke="#2a2a2a" stroke-width="0.9"/>
<rect x="374.5" y="292.36" width="6" height="6.14" fill="#fff" stroke="#222" stroke-width="1"/>
<line x1="386.5" y1="239.16" x2="386.5" y2="257.87" stroke="#4a4a4a" stroke-width="0.8"/>
<line x1="384.7" y1="239.16" x2="388.3" y2="239.16" stroke="#2a2a2a" stroke-width="0.9"/>
<rect x="383.5" y="257.87" width="6.4" height="40.63" fill="#111"/>
<line x1="382.25" y1="298.5" x2="382.25" y2="300.5" stroke="#222" stroke-width="0.8"/>
<text x="386.7" y="239.36" font-size="6" font-weight="bold" text-anchor="middle" font-family="Liberation Sans">*</text>
<text x="382.25" y="306.7" font-size="6.8" font-weight="bold" text-anchor="middle" font-family="Liberation Sans">PAI-1</text>
<text x="273.55" y="265.6" font-size="7.35" font-weight="normal" text-anchor="middle" font-family="Liberation Sans" transform="rotate(-90 273.55 265.6)" stroke="#000" stroke-width="0.25">mRNA levels</text>
<text x="280.95" y="264.85" font-size="7.5" font-weight="normal" text-anchor="middle" font-family="Liberation Sans" transform="rotate(-90 280.95 264.85)" stroke="#000" stroke-width="0.25">(relative expression)</text>
<text x="270.45" y="230.19" font-size="12.2" font-weight="bold" text-anchor="middle" font-family="Liberation Sans" stroke="#000" stroke-width="0.3">K</text>
<line x1="419.5" y1="233.5" x2="419.5" y2="299.0" stroke="#222" stroke-width="1"/>
<line x1="419.0" y1="298.5" x2="516.8" y2="298.5" stroke="#222" stroke-width="1"/>
<line x1="417.2" y1="298.5" x2="419.5" y2="298.5" stroke="#222" stroke-width="1"/>
<text x="416.9" y="300.4" font-size="6.5" font-weight="bold" text-anchor="end" font-family="Liberation Sans">0</text>
<line x1="417.2" y1="285.6" x2="419.5" y2="285.6" stroke="#222" stroke-width="1"/>
<text x="416.9" y="287.5" font-size="6.5" font-weight="bold" text-anchor="end" font-family="Liberation Sans">1</text>
<line x1="417.2" y1="272.7" x2="419.5" y2="272.7" stroke="#222" stroke-width="1"/>
<text x="416.9" y="274.6" font-size="6.5" font-weight="bold" text-anchor="end" font-family="Liberation Sans">2</text>
<line x1="417.2" y1="259.8" x2="419.5" y2="259.8" stroke="#222" stroke-width="1"/>
<text x="416.9" y="261.7" font-size="6.5" font-weight="bold" text-anchor="end" font-family="Liberation Sans">3</text>
<line x1="417.2" y1="246.9" x2="419.5" y2="246.9" stroke="#222" stroke-width="1"/>
<text x="416.9" y="248.8" font-size="6.5" font-weight="bold" text-anchor="end" font-family="Liberation Sans">4</text>
<line x1="417.2" y1="234.0" x2="419.5" y2="234.0" stroke="#222" stroke-width="1"/>
<text x="416.9" y="235.9" font-size="6.5" font-weight="bold" text-anchor="end" font-family="Liberation Sans">5</text>
<line x1="427.5" y1="285.21" x2="427.5" y2="285.6" stroke="#4a4a4a" stroke-width="0.8"/>
<line x1="425.7" y1="285.21" x2="429.3" y2="285.21" stroke="#2a2a2a" stroke-width="0.9"/>
<rect x="424.5" y="286.1" width="6" height="12.4" fill="#fff" stroke="#222" stroke-width="1"/>
<line x1="436.5" y1="247.8" x2="436.5" y2="253.35" stroke="#4a4a4a" stroke-width="0.8"/>
<line x1="434.7" y1="247.8" x2="438.3" y2="247.8" stroke="#2a2a2a" stroke-width="0.9"/>
<rect x="433.1" y="253.35" width="6.4" height="45.15" fill="#111"/>
<line x1="432.05" y1="298.5" x2="432.05" y2="300.5" stroke="#222" stroke-width="0.8"/>
<text x="436.3" y="248" font-size="6" font-weight="bold" text-anchor="middle" font-family="Liberation Sans">*</text>
<text x="432.05" y="306.7" font-size="6.8" font-weight="bold" text-anchor="middle" font-family="Liberation Sans">TNF-a</text>
<line x1="451.5" y1="285.21" x2="451.5" y2="285.6" stroke="#4a4a4a" stroke-width="0.8"/>
<line x1="449.7" y1="285.21" x2="453.3" y2="285.21" stroke="#2a2a2a" stroke-width="0.9"/>
<rect x="448.5" y="286.1" width="6" height="12.4" fill="#fff" stroke="#222" stroke-width="1"/>
<line x1="460.5" y1="238.77" x2="460.5" y2="245.35" stroke="#4a4a4a" stroke-width="0.8"/>
<line x1="458.7" y1="238.77" x2="462.3" y2="238.77" stroke="#2a2a2a" stroke-width="0.9"/>
<rect x="457.2" y="245.35" width="6.4" height="53.15" fill="#111"/>
<line x1="456.1" y1="298.5" x2="456.1" y2="300.5" stroke="#222" stroke-width="0.8"/>
<text x="460.4" y="238.97" font-size="6" font-weight="bold" text-anchor="middle" font-family="Liberation Sans">*</text>
<text x="456.1" y="306.7" font-size="6.8" font-weight="bold" text-anchor="middle" font-family="Liberation Sans">IL-1</text>
<line x1="475.5" y1="284.57" x2="475.5" y2="285.6" stroke="#4a4a4a" stroke-width="0.8"/>
<line x1="473.7" y1="284.57" x2="477.3" y2="284.57" stroke="#2a2a2a" stroke-width="0.9"/>
<rect x="472.5" y="286.1" width="6" height="12.4" fill="#fff" stroke="#222" stroke-width="1"/>
<line x1="484.5" y1="278.89" x2="484.5" y2="281.99" stroke="#4a4a4a" stroke-width="0.8"/>
<line x1="482.7" y1="278.89" x2="486.3" y2="278.89" stroke="#2a2a2a" stroke-width="0.9"/>
<rect x="481.3" y="281.99" width="6.4" height="16.51" fill="#111"/>
<line x1="480.15" y1="298.5" x2="480.15" y2="300.5" stroke="#222" stroke-width="0.8"/>
<text x="480.15" y="306.7" font-size="6.8" font-weight="bold" text-anchor="middle" font-family="Liberation Sans">IL-6</text>
<line x1="499.5" y1="285.21" x2="499.5" y2="285.6" stroke="#4a4a4a" stroke-width="0.8"/>
<line x1="497.7" y1="285.21" x2="501.3" y2="285.21" stroke="#2a2a2a" stroke-width="0.9"/>
<rect x="496.5" y="286.1" width="6" height="12.4" fill="#fff" stroke="#222" stroke-width="1"/>
<line x1="508.5" y1="249.87" x2="508.5" y2="255.93" stroke="#4a4a4a" stroke-width="0.8"/>
<line x1="506.7" y1="249.87" x2="510.3" y2="249.87" stroke="#2a2a2a" stroke-width="0.9"/>
<rect x="505.4" y="255.93" width="6.4" height="42.57" fill="#111"/>
<line x1="504.2" y1="298.5" x2="504.2" y2="300.5" stroke="#222" stroke-width="0.8"/>
<text x="508.6" y="250.07" font-size="6" font-weight="bold" text-anchor="middle" font-family="Liberation Sans">*</text>
<text x="504.2" y="306.7" font-size="6.8" font-weight="bold" text-anchor="middle" font-family="Liberation Sans">PAI-1</text>
<text x="400.35" y="265.6" font-size="7.35" font-weight="normal" text-anchor="middle" font-family="Liberation Sans" transform="rotate(-90 400.35 265.6)" stroke="#000" stroke-width="0.25">mRNA levels</text>
<text x="408.35" y="264.85" font-size="7.5" font-weight="normal" text-anchor="middle" font-family="Liberation Sans" transform="rotate(-90 408.35 264.85)" stroke="#000" stroke-width="0.25">(relative expression)</text>
<text x="404.45" y="228.29" font-size="12.2" font-weight="bold" text-anchor="middle" font-family="Liberation Sans" stroke="#000" stroke-width="0.3">L</text>
<g transform="translate(10.3 57.7) rotate(-90) scale(0.85 1)"><text x="0" y="0" font-size="9.6" font-weight="bold" text-anchor="middle" font-family="Liberation Serif" word-spacing="2.95">2 wks High -fat diet</text></g>
<g transform="translate(10.4 162) rotate(-90) scale(0.85 1)"><text x="0" y="0" font-size="9.6" font-weight="bold" text-anchor="middle" font-family="Liberation Serif" word-spacing="3.77">4 wks High -fat diet</text></g>
<g transform="translate(10.9 264.65) rotate(-90) scale(0.88 1)"><text x="0" y="0" font-size="10.0" font-weight="bold" text-anchor="middle" font-family="Liberation Serif" word-spacing="3.78">Chronic LPS low dose</text></g>
</svg></body></html>
